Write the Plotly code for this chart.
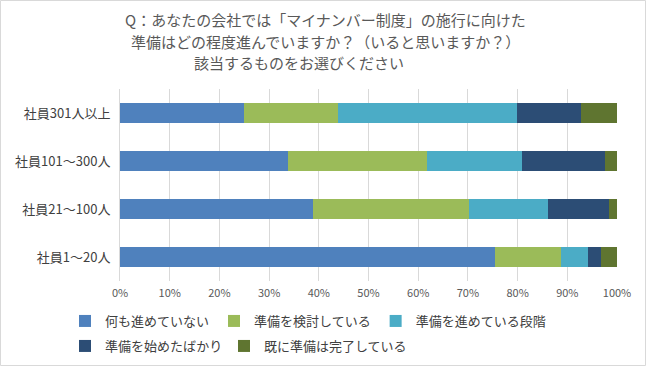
import plotly.graph_objects as go

categories = ["社員301人以上", "社員101～300人", "社員21～100人", "社員1～20人"]
series_names = ["何も進めていない", "準備を検討している", "準備を進めている段階",
                "準備を始めたばかり", "既に準備は完了している"]
v_nothing = [25.0, 33.9, 38.9, 75.5]
v_considering = [18.9, 27.8, 31.4, 13.2]
v_progressing = [35.9, 19.2, 15.9, 5.5]
v_started = [12.9, 16.7, 12.1, 2.6]
v_done = [7.3, 2.4, 1.7, 3.1]
series_values = [v_nothing, v_considering, v_progressing, v_started, v_done]
colors = ["#4F81BD", "#9BBB59", "#4BACC6", "#2C4D75", "#5F7530"]
x_ticks = [0, 10, 20, 30, 40, 50, 60, 70, 80, 90, 100]
x_tick_labels = ["0%", "10%", "20%", "30%", "40%", "50%", "60%", "70%", "80%", "90%", "100%"]

FONT = "Noto Sans CJK JP, Noto Sans, sans-serif"
W, H = 646, 366
ML, MR, MT, MB = 120, 29, 89, 85
PW, PH = W - ML - MR, H - MT - MB


def px_to_paper_x(px):
    return (px - ML) / PW


def px_to_paper_y(py):
    return (H - MB - py) / PH


# legend placement: which legend each series goes into (two rows like the original)
legend_ids = ["legend", "legend", "legend", "legend2", "legend3"]

fig = go.Figure()
for name, vals, col, lg in zip(series_names, series_values, colors, legend_ids):
    fig.add_trace(go.Bar(
        y=categories, x=vals, name=name, orientation="h",
        marker=dict(color=col, line=dict(width=0)),
        legend=lg,
    ))

title_lines = [
    ("Q：あなたの会社では「マイナンバー制度」の施行に向けた", 325, 19),
    ("準備はどの程度進んでいますか？（いると思いますか？）", 325, 41),
    ("該当するものをお選びください", 299, 62),
]
annotations = []
for txt, cx, cy in title_lines:
    annotations.append(dict(
        text=txt, x=px_to_paper_x(cx), y=px_to_paper_y(cy),
        xref="paper", yref="paper", xanchor="center", yanchor="middle",
        showarrow=False, font=dict(family=FONT, size=15, color="#595959"),
    ))

legend_font = dict(family=FONT, size=13, color="#404040")
legend_common = dict(orientation="h", xanchor="left", yanchor="top",
                     xref="container", yref="container",
                     font=legend_font, itemwidth=30, traceorder="normal",
                     bgcolor="rgba(0,0,0,0)")

fig.update_layout(
    width=W, height=H,
    margin=dict(l=ML, r=MR, t=MT, b=MB),
    paper_bgcolor="white", plot_bgcolor="white",
    barmode="stack", bargap=0.58,
    font=dict(family=FONT, color="#595959"),
    annotations=annotations,
    xaxis=dict(
        range=[0, 100], tickvals=x_ticks, ticktext=x_tick_labels,
        showgrid=True, gridcolor="#D9D9D9", gridwidth=1,
        zeroline=False, showline=False, ticks="",
        tickfont=dict(family=FONT, size=11, color="#595959"),
        ticklabelstandoff=4, automargin=False,
        fixedrange=True,
    ),
    yaxis=dict(
        categoryorder="array", categoryarray=categories, autorange="reversed",
        showline=True, linecolor="#D9D9D9", linewidth=1,
        showgrid=False, zeroline=False, ticks="",
        tickfont=dict(family=FONT, size=13, color="#404040"),
        ticklabelstandoff=6, automargin=False,
        fixedrange=True,
    ),
    legend=dict(x=65 / W, y=(H - 306) / H, **legend_common),
    legend2=dict(x=65 / W, y=(H - 331) / H, **legend_common),
    legend3=dict(x=224 / W, y=(H - 331) / H, **legend_common),
    shapes=[dict(
        type="rect", xref="paper", yref="paper",
        x0=px_to_paper_x(0.5), x1=px_to_paper_x(W - 0.5),
        y0=px_to_paper_y(H - 0.5), y1=px_to_paper_y(0.5),
        line=dict(color="#D9D9D9", width=1), layer="below",
    )],
)

fig.write_html("out.html", config={"displayModeBar": False},
               post_script="document.body.style.margin='0';")
